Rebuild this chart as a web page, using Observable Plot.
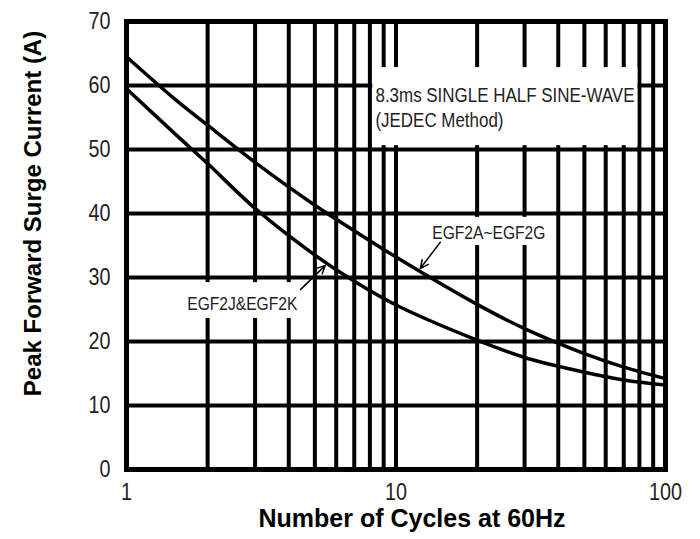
<!DOCTYPE html>
<html>
<head>
<meta charset="utf-8">
<script src="https://cdn.jsdelivr.net/npm/d3@7"></script>
<script src="https://cdn.jsdelivr.net/npm/@observablehq/plot@0.6"></script>
<style>
  html, body { margin: 0; padding: 0; background: #fff; }
  #chart svg { display: block; }
</style>
</head>
<body>
<div id="chart"></div>
<script>
// ---- data ----
const cycles = [1, 1.5, 2, 3, 5, 7, 10, 20, 30, 50, 70, 100];
const egf2aToG = [64.5, 58.0, 53.8, 48.0, 41.3, 37.3, 33.2, 25.8, 22.0, 18.1, 16.0, 14.2];
const egf2jToK = [59.5, 52.6, 47.8, 40.8, 33.5, 29.4, 25.7, 20.2, 17.5, 15.2, 14.0, 13.2];
const seriesNames = ["EGF2A~EGF2G", "EGF2J&EGF2K"];
const xTicks = [1, 10, 100];
const yTicks = [0, 10, 20, 30, 40, 50, 60, 70];
const xGrid = [1, 2, 3, 4, 5, 6, 7, 8, 9, 10, 20, 30, 40, 50, 60, 70, 80, 90, 100];
const noteLines = ["8.3ms SINGLE HALF SINE-WAVE", "(JEDEC Method)"];
const xTitle = "Number of Cycles at 60Hz";
const yTitle = "Peak Forward Surge Current (A)";

const rows = [];
cycles.forEach((c, i) => {
  rows.push({series: seriesNames[0], x: c, y: egf2aToG[i]});
  rows.push({series: seriesNames[1], x: c, y: egf2jToK[i]});
});

// annotation placements (data coordinates)
const noteBox = [{x1: 8.2, x2: 79, y1: 50.6, y2: 62.8}];
const labelBoxes = [
  {x1: 1.63, x2: 4.42, y1: 23.6, y2: 29.2},
  {x1: 13.2, x2: 37.4, y1: 35.0, y2: 39.4}
];
const labels = [
  {text: seriesNames[1], x: 2.69, y: 25.8},
  {text: seriesNames[0], x: 22.1, y: 36.9}
];
const arrows = [
  {x1: 4.42, y1: 28.1, x2: 5.47, y2: 31.9},
  {x1: 14.6, y1: 35.5, x2: 12.3, y2: 31.4}
];

// condensed look (Arial Narrow style): target advance widths in px
const condensedWidths = {
  "8.3ms SINGLE HALF SINE-WAVE": 259,
  "(JEDEC Method)": 128,
  "EGF2J&EGF2K": 110,
  "EGF2A~EGF2G": 113,
  "0": 11, "1": 11, "10": 22, "20": 22, "30": 22, "40": 22, "50": 22, "60": 22, "70": 22, "100": 33
};

const font = "'Liberation Sans', Arial, Helvetica, sans-serif";

const chart = Plot.plot({
  width: 700,
  height: 539,
  marginTop: 21,
  marginBottom: 70,
  marginLeft: 126,
  marginRight: 35,
  style: {background: "#fff", color: "#000"},
  x: {type: "log", domain: [1, 100]},
  y: {domain: [0, 70]},
  marks: [
    Plot.ruleX(xGrid, {stroke: "#000", strokeWidth: 4}),
    Plot.ruleY(yTicks, {stroke: "#000", strokeWidth: 4}),
    Plot.rect(noteBox, {x1: "x1", x2: "x2", y1: "y1", y2: "y2", fill: "#fff"}),
    Plot.rect(labelBoxes, {x1: "x1", x2: "x2", y1: "y1", y2: "y2", fill: "#fff"}),
    Plot.line(rows, {x: "x", y: "y", z: "series", stroke: "#000", strokeWidth: 3.5, curve: "catmull-rom"}),
    Plot.frame({stroke: "#000", strokeWidth: 5}),
    Plot.text([noteLines[0]], {x: 8.39, y: 58.5, text: d => d, textAnchor: "start", fontSize: 20, fontFamily: font, fill: "#222"}),
    Plot.text([noteLines[1]], {x: 8.39, y: 54.45, text: d => d, textAnchor: "start", fontSize: 20, fontFamily: font, fill: "#222"}),
    Plot.text(labels, {x: "x", y: "y", text: "text", fontSize: 19, fontFamily: font, fill: "#222"}),
    Plot.arrow(arrows, {x1: "x1", y1: "y1", x2: "x2", y2: "y2", stroke: "#000", strokeWidth: 1.5, headLength: 9, headAngle: 50}),
    Plot.axisX(xTicks, {tickSize: 0, tickPadding: 14, fontSize: 23, fontFamily: font, fill: "#222", tickFormat: d => String(d), label: null}),
    Plot.axisY(yTicks, {tickSize: 0, tickPadding: 16, fontSize: 23, fontFamily: font, fill: "#222", label: null}),
    Plot.text([xTitle], {frameAnchor: "bottom", dy: 57, dx: 16, text: d => d, fontSize: 25, fontWeight: "bold", fontFamily: font, fill: "#000"}),
    Plot.text([yTitle], {frameAnchor: "left", textAnchor: "middle", dx: -93, dy: -32, rotate: -90, text: d => d, fontSize: 24, fontWeight: "bold", fontFamily: font, fill: "#000"})
  ]
});

// give the narrow-font texts their condensed width
d3.select(chart).selectAll("text").each(function () {
  const t = this.textContent;
  if (Object.prototype.hasOwnProperty.call(condensedWidths, t) && !this.querySelector("tspan")) {
    this.setAttribute("textLength", condensedWidths[t]);
    this.setAttribute("lengthAdjust", "spacingAndGlyphs");
  }
});

document.getElementById("chart").appendChild(chart);
</script>
</body>
</html>
